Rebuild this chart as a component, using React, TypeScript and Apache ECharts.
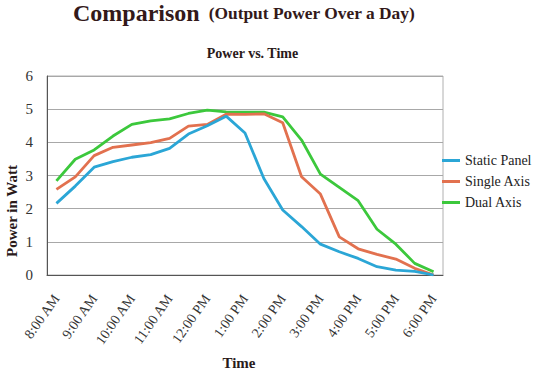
import React, { useEffect, useRef } from "react";
import * as echarts from "echarts";

const categories = [
  "8:00 AM", "8:30 AM", "9:00 AM", "9:30 AM", "10:00 AM", "10:30 AM", "11:00 AM", "11:30 AM",
  "12:00 PM", "12:30 PM", "1:00 PM", "1:30 PM", "2:00 PM", "2:30 PM", "3:00 PM", "3:30 PM",
  "4:00 PM", "4:30 PM", "5:00 PM", "5:30 PM", "6:00 PM",
];
const staticPanel = [2.16, 2.68, 3.25, 3.42, 3.55, 3.63, 3.82, 4.25, 4.5, 4.79, 4.28, 2.91, 1.96, 1.46, 0.93, 0.7, 0.5, 0.25, 0.15, 0.11, 0.0];
const singleAxis = [2.58, 2.96, 3.6, 3.85, 3.92, 3.99, 4.12, 4.49, 4.54, 4.85, 4.84, 4.86, 4.59, 2.96, 2.44, 1.15, 0.79, 0.62, 0.48, 0.2, 0.0];
const dualAxis = [2.84, 3.49, 3.77, 4.19, 4.54, 4.65, 4.71, 4.87, 4.97, 4.92, 4.91, 4.91, 4.77, 4.07, 3.04, 2.64, 2.24, 1.38, 0.93, 0.35, 0.1];
const seriesNames = ["Static Panel", "Single Axis", "Dual Axis"];
const colors = ["#2ba6d6", "#e2714f", "#3cc83c"];

const serif = "Liberation Serif";

export default function App() {
  const ref = useRef<HTMLDivElement>(null);
  useEffect(() => {
    if (!ref.current) return;
    const chart = echarts.init(ref.current, undefined, { renderer: "svg" });
    const data = [staticPanel, singleAxis, dualAxis];
    chart.setOption({
      animation: false,
      backgroundColor: "#ffffff",
      color: colors,
      textStyle: { fontFamily: serif },
      title: {
        text: "{a|Comparison}  {b|(Output Power Over a Day)}",
        left: 68,
        top: -4,
        textStyle: {
          rich: {
            a: { fontFamily: serif, fontSize: 24, fontWeight: "bold", color: "#33191a" },
            b: { fontFamily: serif, fontSize: 17.4, fontWeight: "bold", color: "#33191a" },
          },
        },
      },
      legend: {
        orient: "vertical",
        left: 437,
        top: 148,
        itemWidth: 18,
        itemHeight: 3,
        itemGap: 6,
        icon: "rect",
        textStyle: { fontFamily: serif, fontSize: 14, color: "#222", lineHeight: 15 },
        data: seriesNames,
      },
      grid: {
        left: 47,
        right: 94,
        top: 76,
        bottom: 98,
        show: true,
        borderColor: "#b0b0b0",
        borderWidth: 1,
        containLabel: false,
        outerBoundsMode: "none",
      },
      xAxis: {
        type: "category",
        data: categories,
        boundaryGap: true,
        axisLine: { lineStyle: { color: "#555", width: 1 } },
        axisTick: { show: false },
        axisLabel: {
          interval: 1,
          rotate: 55,
          margin: 21,
          fontFamily: serif,
          fontSize: 14,
          color: "#333",
        },
      },
      yAxis: {
        type: "value",
        min: 0,
        max: 6,
        interval: 1,
        axisLine: { show: true, lineStyle: { color: "#555", width: 1 } },
        axisTick: { show: false },
        axisLabel: { margin: 14, align: "right", fontFamily: serif, fontSize: 15, color: "#333" },
        splitLine: { lineStyle: { color: "#a8a8a8", width: 1 } },
      },
      graphic: [
        {
          type: "text",
          x: 252.5,
          y: 53,
          style: {
            text: "Power vs. Time",
            fontFamily: serif,
            fontSize: 14,
            fontWeight: "bold",
            fill: "#2a1a1a",
            align: "center",
            verticalAlign: "middle",
          },
        },
        {
          type: "text",
          x: 12,
          y: 211,
          rotation: Math.PI / 2,
          style: {
            text: "Power in Watt",
            fontFamily: serif,
            fontSize: 15,
            fontWeight: "bold",
            fill: "#2a1a1a",
            align: "center",
            verticalAlign: "middle",
          },
        },
        {
          type: "text",
          x: 239,
          y: 363,
          style: {
            text: "Time",
            fontFamily: serif,
            fontSize: 15,
            fontWeight: "bold",
            fill: "#2a1a1a",
            align: "center",
            verticalAlign: "middle",
          },
        },
      ],
      series: seriesNames.map((name, i) => ({
        name,
        type: "line",
        data: data[i],
        showSymbol: false,
        symbol: "none",
        lineStyle: { width: 2.8, color: colors[i] },
        itemStyle: { color: colors[i] },
        z: 3 - i,
      })),
    });
    return () => chart.dispose();
  }, []);
  return <div ref={ref} style={{ width: 537, height: 373, position: "absolute", left: 0, top: 0 }} />;
}
